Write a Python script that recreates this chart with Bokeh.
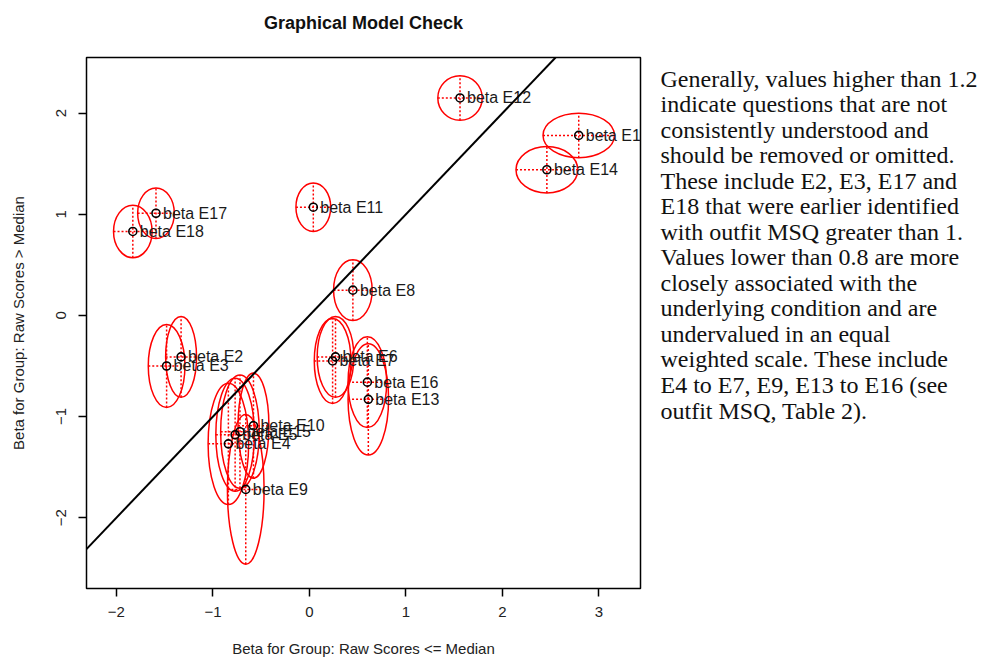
from bokeh.plotting import figure
from bokeh.layouts import row, column
from bokeh.models import Range1d, Slope, FixedTicker, ColumnDataSource
from bokeh.embed import file_html
from bokeh.resources import INLINE
from bokeh.core.properties import value
import numpy as np

# ---- data ----
items = ["beta E1", "beta E2", "beta E3", "beta E4", "beta E5", "beta E6",
         "beta E7", "beta E8", "beta E9", "beta E10", "beta E11", "beta E12",
         "beta E13", "beta E14", "beta E15", "beta E16", "beta E17", "beta E18"]
beta_low = [2.79, -1.33, -1.48, -0.84, -0.77, 0.27,
            0.24, 0.45, -0.66, -0.58, 0.04, 1.56,
            0.61, 2.46, -0.72, 0.60, -1.59, -1.83]
beta_high = [1.78, -0.41, -0.50, -1.27, -1.18, -0.41,
             -0.45, 0.25, -1.72, -1.09, 1.07, 2.15,
             -0.83, 1.44, -1.15, -0.66, 1.01, 0.83]
ci_low = [0.37, 0.16, 0.19, 0.21, 0.20, 0.19,
          0.19, 0.20, 0.19, 0.16, 0.18, 0.23,
          0.21, 0.32, 0.20, 0.20, 0.19, 0.20]
ci_high = [0.22, 0.40, 0.41, 0.60, 0.56, 0.40,
           0.42, 0.30, 0.74, 0.52, 0.24, 0.22,
           0.55, 0.23, 0.56, 0.45, 0.25, 0.26]

x_ticks = [-2, -1, 0, 1, 2, 3]
y_ticks = [-2, -1, 0, 1, 2]
title_text = "Graphical Model Check"
x_label = "Beta for Group: Raw Scores <= Median"
y_label = "Beta for Group: Raw Scores > Median"
note_lines = [
    "Generally, values higher than 1.2",
    "indicate questions that are not",
    "consistently understood and",
    "should be removed or omitted.",
    "These include E2, E3, E17 and",
    "E18 that were earlier identified",
    "with outfit MSQ greater than 1.",
    "Values lower than 0.8 are more",
    "closely associated with the",
    "underlying condition and are",
    "undervalued in an equal",
    "weighted scale. These include",
    "E4 to E7, E9, E13 to E16 (see",
    "outfit MSQ, Table 2).",
]

# ---- layout constants (pixels) ----
xr = (-2.31, 3.43)
yr = (-2.70, 2.55)
sans = "Liberation Sans"
title_h = 36                 # strip holding the title
frame_top = 57               # page y of the plot frame top
frame_w, frame_h = 554, 531
left_b, bottom_b = 86, 69
note_w = 342

# ---- title strip ----
tfig = figure(frame_width=frame_w, frame_height=title_h,
              min_border_left=left_b, min_border_right=10 + note_w,
              min_border_top=0, min_border_bottom=0,
              x_range=Range1d(*xr), y_range=Range1d(title_h, 0),
              output_backend="svg", toolbar_location=None,
              background_fill_color="white", border_fill_color="white")
tfig.axis.visible = False
tfig.grid.visible = False
tfig.outline_line_color = None
tfig.text(x=[(xr[0] + xr[1]) / 2], y=[22], text=[title_text],
          text_align="center", text_baseline="middle",
          text_font=value(sans), text_font_size="18px",
          text_font_style="bold", text_color="#111111")

# ---- main plot ----
bx = np.array(beta_low)
by = np.array(beta_high)
sx = np.array(ci_low)
sy = np.array(ci_high)
src = ColumnDataSource(dict(
    x=bx, y=by, w=2 * sx, h=2 * sy,
    x0=bx - sx, x1=bx + sx, y0=by - sy, y1=by + sy, name=items))

p = figure(frame_width=frame_w, frame_height=frame_h,
           min_border_left=left_b, min_border_right=10,
           min_border_top=frame_top - title_h, min_border_bottom=bottom_b,
           x_range=Range1d(*xr), y_range=Range1d(*yr),
           output_backend="svg", toolbar_location=None,
           background_fill_color="white", border_fill_color="white")
p.grid.visible = False
p.outline_line_color = "black"
p.outline_line_width = 1.5

p.add_layout(Slope(gradient=1, y_intercept=0, line_color="black", line_width=2))

p.ellipse(x="x", y="y", width="w", height="h", source=src,
          fill_color=None, line_color="#ff0000", line_width=1.5)
p.segment(x0="x0", y0="y", x1="x1", y1="y", source=src,
          line_color="#ff0000", line_width=1.5, line_dash="2 2")
p.segment(x0="x", y0="y0", x1="x", y1="y1", source=src,
          line_color="#ff0000", line_width=1.5, line_dash="2 2")
p.scatter(x="x", y="y", source=src, marker="circle", size=8,
          fill_color=None, line_color="black", line_width=1.6)
p.text(x="x", y="y", text="name", source=src, x_offset=7,
       text_baseline="middle", text_align="left",
       text_font=value(sans), text_font_size="16px", text_color="#1a1a1a")

for ax, ticks in ((p.xaxis, x_ticks), (p.yaxis, y_ticks)):
    ax.ticker = FixedTicker(ticks=ticks)
    ax.minor_tick_line_color = None
    ax.axis_line_color = None
    ax.major_tick_in = 0
    ax.major_tick_out = 8
    ax.major_tick_line_width = 1.5
    ax.major_tick_line_color = "black"
    ax.major_label_text_font = sans
    ax.major_label_text_font_size = "15px"
    ax.major_label_text_color = "#222222"
    ax.axis_label_text_font = sans
    ax.axis_label_text_font_size = "15px"
    ax.axis_label_text_font_style = "normal"
    ax.axis_label_text_color = "#222222"

p.xaxis.axis_label = x_label
p.xaxis.major_label_standoff = 10
p.xaxis.axis_label_standoff = 20
p.yaxis.axis_label = y_label
p.yaxis.major_label_standoff = 12
p.yaxis.axis_label_standoff = 27
p.yaxis.major_label_orientation = "vertical"

# ---- explanatory note, page-pixel coordinates ----
q = figure(frame_width=note_w, frame_height=frame_h,
           min_border_left=0, min_border_right=0,
           min_border_top=frame_top - title_h, min_border_bottom=bottom_b,
           x_range=Range1d(0, note_w),
           y_range=Range1d(frame_top + frame_h, frame_top),
           output_backend="svg", toolbar_location=None,
           background_fill_color="white", border_fill_color="white")
q.axis.visible = False
q.grid.visible = False
q.outline_line_color = None
line_step = 25.54
note_src = ColumnDataSource(dict(
    x=[10] * len(note_lines),
    y=[78 + i * line_step for i in range(len(note_lines))],
    t=note_lines))
q.text(x="x", y="y", text="t", source=note_src,
       text_baseline="middle", text_align="left",
       text_font=value("Liberation Serif"), text_font_size="24px",
       text_color="#111111")

open("out.html", "w").write(file_html(column(tfig, row(p, q)), INLINE))
